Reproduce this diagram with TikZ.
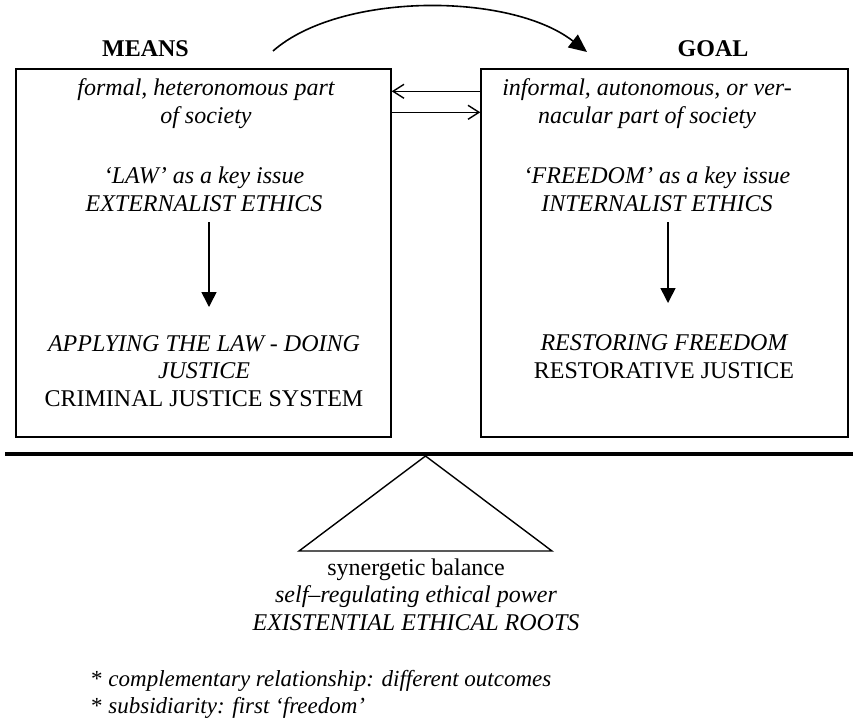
\documentclass[tikz,border=0pt]{standalone}
\usepackage{fontspec}
\setmainfont{Liberation Serif}
\usetikzlibrary{arrows.meta,positioning}

\tikzset{
  panel/.style={draw, line width=1.4pt, minimum height=368pt, inner sep=0pt},
  txt/.style={align=center, anchor=base, inner sep=0pt,
    font=\fontsize{24}{27.5}\selectfont},
  itxt/.style={txt, font=\fontsize{24}{27.5}\selectfont\itshape},
  title/.style={txt, font=\fontsize{24}{27.5}\selectfont\bfseries},
  barb/.style={line width=1.4pt, -{Straight Barb[length=11pt,width=14pt,line width=1.4pt]}},
  down/.style={line width=1.6pt, -{Triangle[length=15pt,width=15pt]}},
}

\begin{document}
\begin{tikzpicture}[x=1pt,y=-1pt]
    \useasboundingbox (0,0) rectangle (853,721);

    % the two boxes
    \node[panel, minimum width=375pt] (lbox) at (203.5,253) {};
    \node[panel, minimum width=367pt] (rbox) at (664.5,253) {};

    % headings
    \node[title] (means) at (145.5,56) {MEANS};
    \node[title] (goal)  at (713,56)   {GOAL};

    % left box (base = last line)
    \node[itxt] (lsoc) at (206,123) {formal, heteronomous part\\of society};
    \node[itxt] (llaw) at (204,211) {`LAW' as a key issue\\EXTERNALIST ETHICS};
    \node[itxt] (lapp) at (204,406) {APPLYING THE LAW - DOING\\JUSTICE\\\upshape CRIMINAL JUSTICE SYSTEM};

    % right box
    \node[itxt] (rsoc)  at (647,123) {informal, autonomous, or ver-\\nacular part of society};
    \node[itxt] (rfree) at (657,211) {`FREEDOM' as a key issue\\INTERNALIST ETHICS};
    \node[itxt] (rrest) at (664,378) {RESTORING FREEDOM\\\upshape RESTORATIVE JUSTICE};

    % arrows inside the boxes
    \coordinate (la) at (209,222);
    \coordinate (lb) at (209,307);
    \coordinate (ra) at (668,222);
    \coordinate (rb) at (668,303);
    \draw[down] (la) -- (lb);
    \draw[down] (ra) -- (rb);

    % arrows between the boxes
    \draw[barb] ([yshift=-23pt]rbox.north west) -- ([yshift=-23pt]lbox.north east);
    \draw[barb] ([yshift=-44pt]lbox.north east) -- ([yshift=-44pt]rbox.north west);

    % the curved arrow on top
    \coordinate (cs) at (273,51);
    \coordinate (ce) at (587,52);
    \draw[line width=1.6pt, -{Triangle[length=18pt,width=16pt]}]
        (cs) .. controls (340,-8) and (510,-8) .. (ce);

    % the beam and the fulcrum
    \coordinate (beamL) at (5,453.5);
    \coordinate (beamR) at (853,453.5);
    \draw[line width=4pt] (beamL) -- (beamR);
    \coordinate (apex) at (425.5,456);
    \coordinate (baseL) at (299,551);
    \coordinate (baseR) at (552,551);
    \draw[line width=1.4pt] (apex) -- (baseR) -- (baseL) -- cycle;

    % text under the fulcrum
    \node[txt] (bal) at (416,630) {synergetic balance\\\itshape self--regulating ethical power\\\itshape EXISTENTIAL ETHICAL ROOTS};

    % notes
    \node[itxt, align=left, anchor=base west, font=\fontsize{23}{26.5}\selectfont\itshape] (notes) at (91,713)
        {{\upshape*} complementary relationship: different outcomes\\{\upshape*} subsidiarity: first `freedom'};
\end{tikzpicture}
\end{document}
